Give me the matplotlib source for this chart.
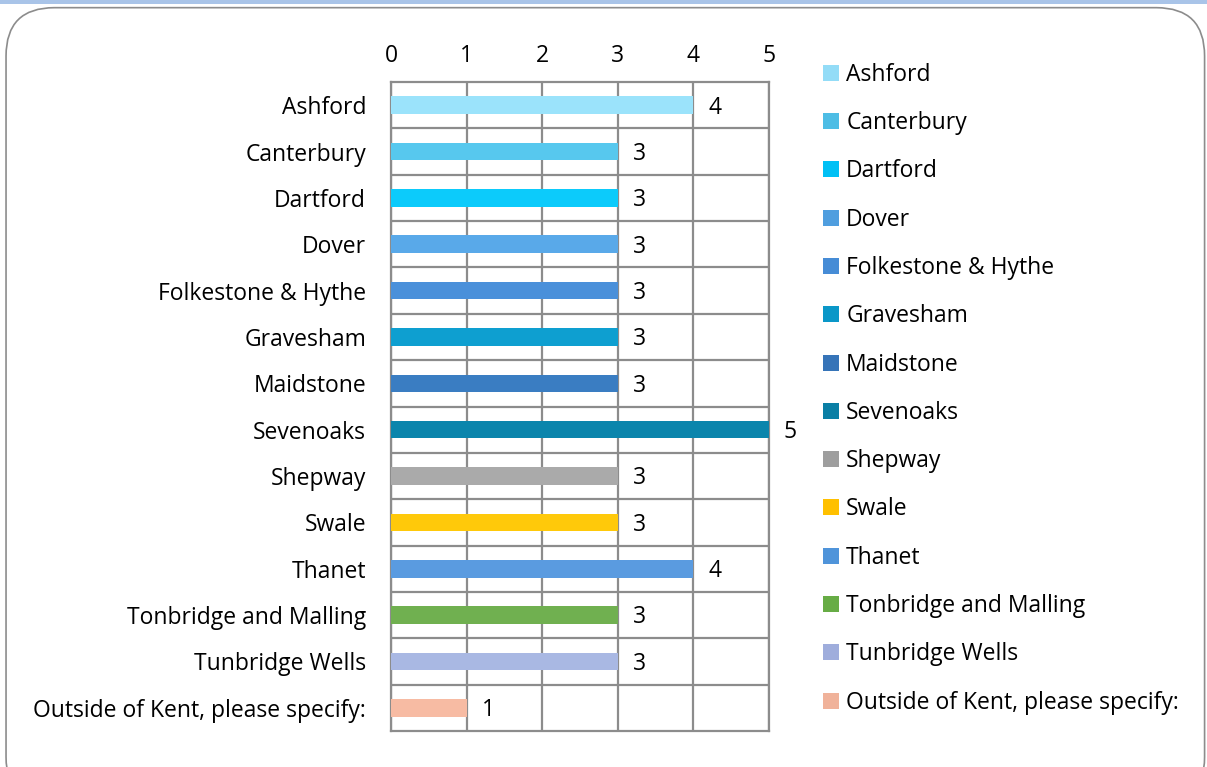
import matplotlib.pyplot as plt
from matplotlib.patches import FancyBboxPatch, Patch, Rectangle

categories = ['Ashford', 'Canterbury', 'Dartford', 'Dover', 'Folkestone & Hythe',
              'Gravesham', 'Maidstone', 'Sevenoaks', 'Shepway', 'Swale', 'Thanet',
              'Tonbridge and Malling', 'Tunbridge Wells', 'Outside of Kent, please specify:']
values = [4, 3, 3, 3, 3, 3, 3, 5, 3, 3, 4, 3, 3, 1]
colors = ['#9BE3FB', '#57C8EE', '#0CCBFB', '#59A9E9', '#4A90DA', '#0E9FD0', '#3A7DC2',
          '#0B85AC', '#AAAAAA', '#FFC90A', '#5A9BE0', '#70B050', '#A9B8E3', '#F7BBA3']
legend_colors = ['#93DCF7', '#4DBDE5', '#00C0F5', '#4F9EDF', '#468CD6', '#0A97C8', '#3674B8',
                 '#0A7FA5', '#9E9E9E', '#FFC000', '#4F94DA', '#67AC45', '#9FADDC', '#F0B29A']

plt.rcParams['font.family'] = ['Open Sans', 'DejaVu Sans']
fs = 16.5

fig = plt.figure(figsize=(12.07, 7.67), dpi=100)

# rounded chart border and top strip
fig.patches.append(Rectangle((0, 0.995), 1, 0.005, transform=fig.transFigure,
                             facecolor='#A9C4E8', edgecolor='none'))
fig.patches.append(FancyBboxPatch((0.005, -0.05), 0.993, 1.04,
                                  boxstyle='round,pad=0,rounding_size=0.04',
                                  transform=fig.transFigure, facecolor='none',
                                  edgecolor='#8C8C8C', linewidth=1.2,
                                  mutation_aspect=1207 / 767))

ax = fig.add_axes([0.324, 0.047, 0.313, 0.846])
n = len(categories)
pos = list(range(n))
ax.barh(pos, values, height=0.38, color=colors, zorder=3)
for p, v in zip(pos, values):
    ax.text(v + 0.2, p + 0.05, str(v), va='center', ha='left', fontsize=fs)

ax.set_xlim(0, 5)
ax.set_ylim(n - 0.5, -0.5)
ax.set_yticks(pos)
ax.set_yticklabels(categories, fontsize=fs)
ax.set_xticks(range(6))
ax.tick_params(axis='x', top=True, bottom=False, labeltop=True, labelbottom=False,
               length=0, pad=10, labelsize=fs)
ax.tick_params(axis='y', length=0, pad=18)
ax.set_yticks([p + 0.5 for p in pos[:-1]], minor=True)
ax.tick_params(axis='y', which='minor', length=0)
ax.grid(axis='x', color='#8C8C8C', linewidth=1.6, zorder=1)
ax.grid(axis='y', which='minor', color='#8C8C8C', linewidth=1.6, zorder=1)
for s in ax.spines.values():
    s.set_color('#8C8C8C')
    s.set_linewidth(1.6)

handles = [Patch(facecolor=c, edgecolor='none') for c in legend_colors]
fig.legend(handles, categories, loc='upper left', bbox_to_anchor=(0.6745, 0.93),
           frameon=False, fontsize=fs, handlelength=0.7, handleheight=0.7,
           handletextpad=0.3, labelspacing=1.06, borderaxespad=0)

fig.savefig('out.png', dpi=100)
